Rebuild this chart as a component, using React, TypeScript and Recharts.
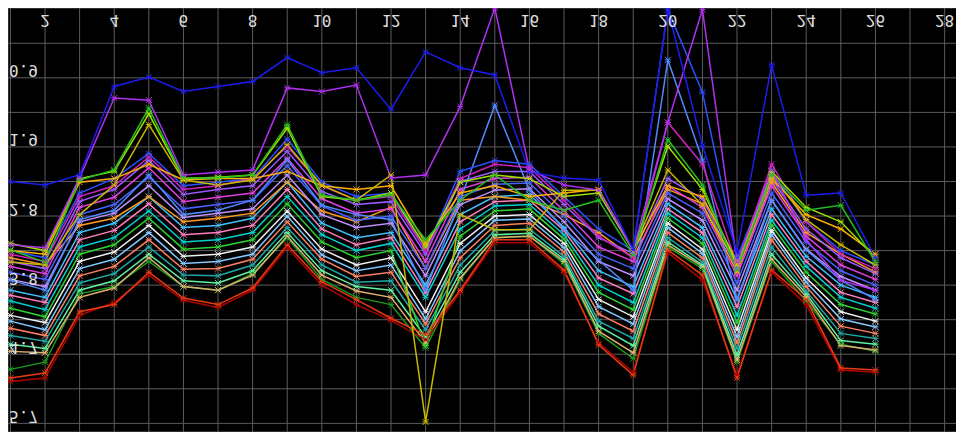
import { LineChart, Line, XAxis, YAxis, CartesianGrid } from "recharts";

// x positions of every point
const X_VALUES = [1, 2, 3, 4, 5, 6, 7, 8, 9, 10, 11, 12, 13, 14, 15, 16, 17, 18, 19, 20, 21, 22, 23, 24, 25, 26];

const X_GRID = [1, 2, 3, 4, 5, 6, 7, 8, 9, 10, 11, 12, 13, 14, 15, 16, 17, 18, 19, 20, 21, 22, 23, 24, 25, 26, 27, 28];
const X_LABELED = [2, 4, 6, 8, 10, 12, 14, 16, 18, 20, 22, 24, 26, 28];
const X_TICK_LABELS = ["2", "4", "6", "8", "10", "12", "14", "16", "18", "20", "22", "24", "26", "28"];

const Y_GRID = [0.42, 0.9, 1.38, 1.86, 2.34, 2.82, 3.3, 3.78, 4.26, 4.74, 5.22, 5.7];
const Y_LABELED = [0.9, 1.86, 2.82, 3.78, 4.74, 5.7];
const Y_TICK_LABELS = ["0.9", "1.9", "2.8", "3.8", "4.7", "5.7"];

// series
const blueTop = [2.34, 2.39, 2.25, 1.02, 0.89, 1.09, 1.02, 0.95, 0.62, 0.83, 0.76, 1.34, 0.54, 0.76, 0.86, 2.21, 2.29, 2.32, 3.29, -0.05, 1.84, 3.32, 0.72, 2.53, 2.5, 3.4];
const purplePeak = [3.22, 3.26, 2.29, 1.18, 1.21, 2.25, 2.21, 2.18, 1.04, 1.09, 1.0, 2.29, 2.25, 1.3, -0.07, 2.18, 2.39, 2.46, 3.29, 1.52, -0.05, 3.46, 2.18, 3.15, 3.71, 3.85];
const greenPeak = [3.29, 3.46, 2.32, 2.18, 1.32, 2.29, 2.29, 2.25, 1.55, 2.53, 2.6, 2.53, 3.15, 2.6, 2.25, 2.6, 2.74, 2.6, 3.36, 1.76, 2.39, 3.57, 2.25, 2.74, 2.67, 3.46];
const oliveDip = [3.46, 3.5, 2.8, 2.39, 1.55, 2.32, 2.39, 2.32, 1.83, 2.39, 2.6, 2.25, 5.68, 2.8, 3.01, 3.01, 2.46, 2.46, 3.29, 2.18, 2.67, 3.5, 2.25, 2.87, 3.22, 3.5];
const redLow = [5.07, 5.0, 4.15, 4.05, 3.6, 3.96, 4.05, 3.82, 3.22, 3.73, 3.98, 4.24, 4.47, 3.85, 3.15, 3.15, 3.57, 4.61, 5.03, 3.29, 3.64, 5.07, 3.57, 3.98, 4.93, 4.96];
const darkRed = [5.12, 5.07, 4.2, 4.02, 3.64, 3.99, 4.09, 3.85, 3.26, 3.78, 4.05, 4.27, 4.54, 3.88, 3.19, 3.19, 3.6, 4.58, 4.99, 3.33, 3.71, 5.03, 3.6, 4.05, 4.96, 4.99];
const cornflower = [3.71, 3.85, 2.87, 2.74, 2.25, 2.8, 2.74, 2.6, 2.04, 2.67, 2.8, 2.87, 3.85, 2.6, 1.28, 2.46, 3.01, 3.43, 3.85, 0.65, 2.04, 3.98, 2.6, 3.29, 3.71, 3.98];
const blueSpike = [3.3, 3.4, 2.5, 2.3, 1.95, 2.4, 2.35, 2.3, 1.75, 2.35, 2.55, 2.5, 3.3, 2.2, 2.05, 2.1, 2.55, 3.0, 3.3, -0.05, 1.1, 3.4, 2.2, 2.9, 3.3, 3.5];
const magentaSpike = [3.35, 3.45, 2.55, 2.4, 2.0, 2.45, 2.4, 2.3, 1.85, 2.4, 2.6, 2.55, 3.3, 2.3, 2.1, 2.15, 2.6, 3.1, 3.4, 1.52, 2.1, 3.5, 2.1, 2.9, 3.35, 3.55];
const orangeBand = [3.3, 3.35, 2.35, 2.3, 2.1, 2.32, 2.3, 2.3, 2.2, 2.4, 2.45, 2.4, 3.2, 2.5, 2.4, 2.55, 2.5, 2.45, 3.3, 2.4, 2.55, 3.45, 2.3, 2.8, 3.0, 3.35];
const limeBand = [3.2, 3.3, 2.3, 2.2, 1.4, 2.3, 2.28, 2.25, 1.6, 2.55, 2.6, 2.5, 3.25, 2.35, 2.25, 2.3, 2.55, 2.5, 3.3, 1.85, 2.45, 3.5, 2.2, 2.7, 2.9, 3.4];
const violet = [3.45, 3.55, 2.62, 2.45, 2.05, 2.52, 2.45, 2.4, 1.92, 2.48, 2.66, 2.62, 3.35, 2.34, 2.2, 2.2, 2.66, 3.12, 3.34, 2.3, 2.58, 3.55, 2.3, 3.0, 3.4, 3.62];
const magenta = [3.52, 3.62, 2.7, 2.56, 2.15, 2.62, 2.56, 2.5, 2.02, 2.58, 2.78, 2.72, 3.45, 2.45, 2.3, 2.28, 2.75, 3.25, 3.45, 2.4, 2.7, 3.65, 2.4, 3.1, 3.5, 3.7];
const blueMid = [3.6, 3.7, 2.8, 2.66, 2.28, 2.72, 2.66, 2.6, 2.12, 2.68, 2.88, 2.82, 3.55, 2.55, 2.38, 2.36, 2.82, 3.35, 3.55, 2.5, 2.78, 3.75, 2.5, 3.18, 3.58, 3.78];
const lavender = [3.7, 3.8, 2.9, 2.78, 2.4, 2.84, 2.78, 2.72, 2.25, 2.8, 2.98, 2.92, 3.65, 2.66, 2.46, 2.44, 2.9, 3.45, 3.65, 2.58, 2.88, 3.85, 2.6, 3.28, 3.66, 3.85];
const orange = [3.4, 3.5, 2.95, 2.85, 2.55, 2.9, 2.85, 2.78, 2.35, 2.75, 2.9, 2.7, 3.55, 2.6, 2.55, 2.6, 2.8, 3.05, 3.4, 2.45, 2.65, 3.6, 2.35, 3.05, 3.35, 3.6];
const sky = [3.85, 3.95, 3.05, 2.92, 2.55, 2.98, 2.95, 2.85, 2.35, 2.92, 3.12, 3.05, 3.78, 2.8, 2.55, 2.52, 2.98, 3.58, 3.8, 2.65, 2.98, 3.98, 2.72, 3.38, 3.78, 3.95];
const pink = [3.92, 4.02, 3.15, 3.02, 2.65, 3.08, 3.05, 2.95, 2.45, 3.0, 3.22, 3.12, 3.88, 2.9, 2.62, 2.6, 3.02, 3.68, 3.9, 2.72, 3.05, 4.08, 2.8, 3.45, 3.88, 4.02];
const cyan = [4.0, 4.12, 3.25, 3.12, 2.75, 3.18, 3.15, 3.05, 2.55, 3.08, 3.3, 3.2, 3.95, 3.0, 2.68, 2.66, 3.08, 3.78, 4.02, 2.78, 3.12, 4.2, 2.88, 3.52, 3.95, 4.1];
const green = [4.1, 4.22, 3.35, 3.22, 2.85, 3.28, 3.25, 3.15, 2.65, 3.18, 3.4, 3.3, 4.62, 3.1, 2.75, 2.72, 3.14, 3.88, 4.12, 2.85, 3.2, 4.3, 2.95, 3.6, 4.05, 4.18];
const white = [4.2, 4.3, 3.45, 3.32, 2.95, 3.38, 3.35, 3.25, 2.75, 3.28, 3.5, 3.4, 4.15, 3.2, 2.82, 2.8, 3.2, 3.98, 4.22, 2.92, 3.28, 4.4, 3.02, 3.68, 4.15, 4.28];
const lightBlue = [4.28, 4.4, 3.55, 3.42, 3.05, 3.48, 3.45, 3.35, 2.82, 3.36, 3.58, 3.5, 4.25, 3.3, 2.88, 2.86, 3.26, 4.08, 4.32, 2.98, 3.34, 4.5, 3.08, 3.74, 4.25, 4.36];
const salmon = [4.38, 4.48, 3.65, 3.52, 3.15, 3.56, 3.55, 3.42, 2.9, 3.42, 3.66, 3.6, 4.32, 3.4, 2.95, 2.92, 3.32, 4.18, 4.42, 3.05, 3.4, 4.58, 3.15, 3.8, 4.35, 4.45];
const teal = [4.48, 4.56, 3.75, 3.62, 3.25, 3.64, 3.65, 3.5, 2.98, 3.5, 3.74, 3.72, 4.4, 3.5, 3.02, 3.0, 3.38, 4.28, 4.52, 3.12, 3.46, 4.66, 3.25, 3.86, 4.45, 4.52];
const mint = [4.6, 4.66, 3.85, 3.72, 3.35, 3.72, 3.75, 3.58, 3.05, 3.58, 3.8, 3.85, 4.5, 3.6, 3.08, 3.06, 3.42, 4.35, 4.62, 3.18, 3.5, 4.75, 3.35, 3.9, 4.55, 4.6];
const tan = [4.7, 4.72, 3.95, 3.82, 3.4, 3.8, 3.85, 3.64, 3.1, 3.64, 3.86, 3.95, 4.58, 3.68, 3.12, 3.1, 3.45, 4.42, 4.72, 3.22, 3.52, 4.82, 3.42, 3.94, 4.62, 4.68];
const darkGreen = [4.95, 4.85, 3.9, 3.8, 3.45, 3.8, 3.85, 3.62, 3.12, 3.7, 3.95, 4.05, 4.65, 3.7, 3.12, 3.1, 3.48, 4.45, 4.8, 3.25, 3.55, 4.85, 3.45, 4.0, 4.6, 4.7];

const SERIES = [
  { key: "darkGreen", values: darkGreen, color: "#1a9a1a" },
  { key: "tan", values: tan, color: "#e0b070" },
  { key: "mint", values: mint, color: "#60f0a0" },
  { key: "teal", values: teal, color: "#20a8a8" },
  { key: "salmon", values: salmon, color: "#ff8060" },
  { key: "lightBlue", values: lightBlue, color: "#80c8ff" },
  { key: "white", values: white, color: "#f0f0f0" },
  { key: "green", values: green, color: "#30d030" },
  { key: "cyan", values: cyan, color: "#00d0d0" },
  { key: "pink", values: pink, color: "#ff80c0" },
  { key: "sky", values: sky, color: "#40c0ff" },
  { key: "orange", values: orange, color: "#ff9a20" },
  { key: "lavender", values: lavender, color: "#c090ff" },
  { key: "blueMid", values: blueMid, color: "#4a60ff" },
  { key: "magenta", values: magenta, color: "#e040e0" },
  { key: "violet", values: violet, color: "#9b59ff" },
  { key: "cornflower", values: cornflower, color: "#5088ff" },
  { key: "blueSpike", values: blueSpike, color: "#2a50ff" },
  { key: "magentaSpike", values: magentaSpike, color: "#d020c0" },
  { key: "orangeBand", values: orangeBand, color: "#ffb000" },
  { key: "limeBand", values: limeBand, color: "#a0e000" },
  { key: "darkRed", values: darkRed, color: "#b00000" },
  { key: "redLow", values: redLow, color: "#e83a10" },
  { key: "oliveDip", values: oliveDip, color: "#c8b800" },
  { key: "greenPeak", values: greenPeak, color: "#20c020" },
  { key: "purplePeak", values: purplePeak, color: "#b030f0" },
  { key: "blueTop", values: blueTop, color: "#1c1cf0" },
];

const data = X_VALUES.map((x, i) => {
  const row: Record<string, number> = { x };
  SERIES.forEach((s) => {
    row[s.key] = s.values[i];
  });
  return row;
});

const W = 956;
const H = 424;

const Marker = (props: any) => {
  const { cx, cy, stroke, index, dataKey } = props;
  if (cx == null || cy == null) return <g key={`m-${dataKey}-${index}`} />;
  const r = 3;
  return (
    <path
      key={`m-${dataKey}-${index}`}
      d={`M${cx - r},${cy - r}L${cx + r},${cy + r}M${cx - r},${cy + r}L${cx + r},${cy - r}M${cx - r},${cy}L${cx + r},${cy}`}
      stroke={stroke}
      strokeWidth={1}
      fill="none"
    />
  );
};

const XTick = (props: any) => {
  const { x, payload } = props;
  const i = X_LABELED.indexOf(payload.value);
  if (i < 0) return <g />;
  return (
    <text x={x} y={H - 12} textAnchor="middle" dominantBaseline="central" fill="#dddddd" fontSize={16} fontFamily="DejaVu Sans Mono">
      {X_TICK_LABELS[i]}
    </text>
  );
};

const YTick = (props: any) => {
  const { y, payload } = props;
  const i = Y_LABELED.findIndex((v) => Math.abs(v - payload.value) < 1e-6);
  if (i < 0) return <g />;
  return (
    <text x={1} y={y + 7} textAnchor="start" dominantBaseline="central" fill="#dddddd" fontSize={16} fontFamily="DejaVu Sans Mono">
      {Y_TICK_LABELS[i]}
    </text>
  );
};

export default function App() {
  return (
    <div style={{ width: W, height: H, background: "#000", transform: "scaleY(-1)", overflow: "hidden" }}>
      <LineChart width={W} height={H} data={data} margin={{ top: 0, right: 0, bottom: -1, left: -1 }}>
        <CartesianGrid stroke="#5c5c5c" strokeWidth={1} />
        <XAxis
          type="number"
          dataKey="x"
          domain={[0.93, 28.56]}
          ticks={X_GRID}
          tick={XTick}
          height={1}
          axisLine={false}
          tickLine={false}
          interval={0}
          allowDataOverflow
        />
        <YAxis
          type="number"
          domain={[-0.07, 5.82]}
          ticks={Y_GRID}
          tick={YTick}
          width={1}
          axisLine={false}
          tickLine={false}
          interval={0}
          allowDataOverflow
        />
        {SERIES.map((s) => (
          <Line
            key={s.key}
            dataKey={s.key}
            type="linear"
            stroke={s.color}
            strokeWidth={1.5}
            dot={Marker}
            activeDot={false}
            isAnimationActive={false}
          />
        ))}
      </LineChart>
    </div>
  );
}
